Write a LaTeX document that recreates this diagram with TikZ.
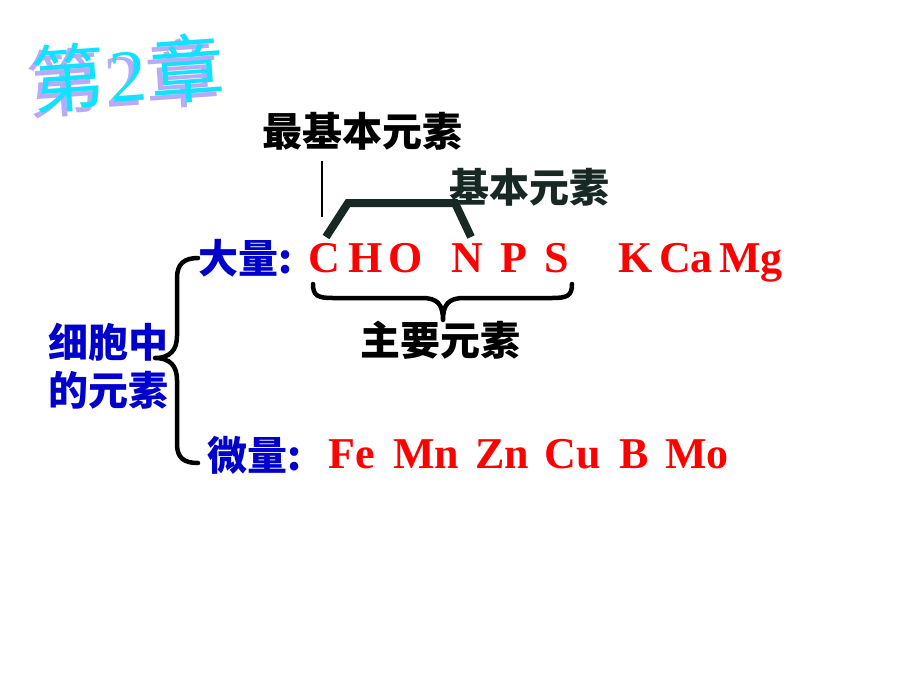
\documentclass[tikz,border=0pt]{standalone}
\usepackage{fontspec}
\setmainfont{Liberation Serif}
\newfontfamily\cjk{Noto Sans CJK SC}
\definecolor{tblue}{RGB}{0,0,204}
\definecolor{tdark}{RGB}{24,40,36}
\definecolor{tcyan}{RGB}{20,225,255}
\definecolor{tlav}{RGB}{185,170,245}
\newcommand{\titletext}{第\hspace{4pt}{\rmfamily 2}\hspace{4pt}章}
\begin{document}
\begin{tikzpicture}[x=1pt,y=-1pt,
  cn/.style={font=\cjk\bfseries\fontsize{40}{40}\selectfont, inner sep=0pt},
  el/.style={font=\bfseries\fontsize{44}{44}\selectfont, text=red, inner sep=0pt, anchor=base},
  brace/.style={line width=4.5pt, line cap=round, line join=round},
  title/.style={font=\cjk\fontsize{74}{74}\selectfont, inner sep=0pt, rotate=4}]
\useasboundingbox[fill=white] (0,0) rectangle (920,690);

% title (lavender shadow behind cyan text)
\node[title, text=tlav] (tshadow) at (123,78) {\titletext};
\node[title, text=tcyan] (title) at (128,73) {\titletext};

% labels
\node[cn] (zjb) at (362,131) {最基本元素};
\node[cn, text=tdark] (jb) at (529,187) {基本元素};
\node[cn] (zy) at (440,340) {主要元素};
\node[cn, text=tblue] (dl) at (246,258) {大量:};
\node[cn, text=tblue] (wl) at (255,455) {微量:};
\node[cn, text=tblue, align=center, font=\cjk\bfseries\fontsize{40}{48}\selectfont] (xb) at (108,366) {细胞中\\的元素};

% macro elements
\node[el] (C) at (324,272) {C};
\node[el] (H) at (366,272) {H};
\node[el] (O) at (406,272) {O};
\node[el] (N) at (467,272) {N};
\node[el] (P) at (514,272) {P};
\node[el] (S) at (557,272) {S};
\node[el] (K) at (636,272) {K};
\node[el] (Ca) at (686,272) {Ca};
\node[el] (Mg) at (751,272) {Mg};

% micro elements
\node[el] (Fe) at (352,468) {Fe};
\node[el] (Mn) at (426,468) {Mn};
\node[el] (Zn) at (502,468) {Zn};
\node[el] (Cu) at (573,468) {Cu};
\node[el] (B) at (634,468) {B};
\node[el] (Mo) at (697,468) {Mo};

% thin line from "最基本元素" to C
\coordinate (l1) at (322,161);
\coordinate (l2) at (322,217);
\draw[line width=1.6pt] (l1) -- (l2);

% thick bracket C..N
\coordinate (b1) at (326,237);
\coordinate (b2) at (348,203);
\coordinate (b3) at (455,203);
\coordinate (b4) at (471,237);
\draw[tdark, line width=8pt, line join=miter] (b1) -- (b2) -- (b3) -- (b4);

% brace under CHONPS
\draw[brace] (313,284) .. controls (313,296) and (318,298) .. (333,298) -- (422,298)
  .. controls (437,298) and (443,304) .. (443,320)
  .. controls (443,304) and (449,298) .. (464,298) -- (552,298)
  .. controls (567,298) and (572,296) .. (572,284);

% left brace
\draw[brace] (198,258) .. controls (184,258) and (177,264) .. (177,278) -- (177,336)
  .. controls (177,350) and (170,358) .. (155,358)
  .. controls (170,358) and (177,366) .. (177,380) -- (177,444)
  .. controls (177,458) and (184,463) .. (198,463);
\end{tikzpicture}
\end{document}
